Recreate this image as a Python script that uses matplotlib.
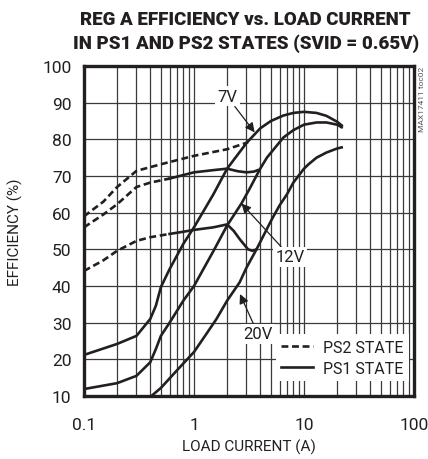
import numpy as np
import matplotlib
matplotlib.use('Agg')
import matplotlib.pyplot as plt

plt.rcParams['font.family'] = ['Roboto', 'DejaVu Sans']

# PS1 state (solid)
i_7v = [0.1, 0.2, 0.3, 0.4, 0.45, 0.5, 0.6, 0.8, 1, 1.5, 2, 3, 4, 5, 6.5, 8, 10, 13, 16, 20, 22]
eff_7v = [21.2, 24.2, 26.4, 31, 34.6, 39.7, 44.6, 51.5, 56, 65, 72, 79, 83, 85, 86.5, 87.2, 87.5, 87.2, 86.4, 84.8, 83.8]

i_12v = [0.1, 0.2, 0.3, 0.4, 0.45, 0.5, 0.6, 0.8, 1, 1.5, 2, 2.7, 3.2, 4, 4.6, 6.5, 8, 10, 13, 16, 20, 22]
eff_12v = [11.9, 13.5, 15.5, 19.2, 22.8, 26.4, 30, 36, 40, 49.5, 56.5, 62.5, 66.5, 72, 75, 80.5, 82.5, 84, 84.6, 84.6, 84, 83.3]

i_20v = [0.41, 0.5, 0.7, 1, 1.3, 1.6, 2, 2.6, 3, 3.7, 4.5, 5.1, 6, 7, 8, 10, 11, 13, 16, 20, 22]
eff_20v = [10, 12.2, 17, 22, 27, 31, 36, 41, 45, 50, 55, 58.2, 62, 65, 68.2, 72, 73.2, 75, 76.4, 77.5, 77.8]

# PS2 state (dashed at light load, solid once it joins)
i_7v_ps2 = [0.1, 0.15, 0.2, 0.3, 0.5, 1, 2, 3.1]
eff_7v_ps2 = [59, 63, 67, 71.4, 73.2, 75.5, 77.3, 79.2]

i_12v_ps2_d = [0.1, 0.15, 0.2, 0.3, 0.4, 0.6]
eff_12v_ps2_d = [56, 59.5, 62.3, 67, 68.2, 69.3]
i_12v_ps2_s = [0.6, 1, 1.5, 2, 2.5, 3, 3.5, 3.8]
eff_12v_ps2_s = [69.3, 71, 71.6, 72, 71.3, 71, 71.2, 71.6]

i_20v_ps2_d = [0.1, 0.15, 0.2, 0.3, 0.4, 0.6]
eff_20v_ps2_d = [44.1, 47, 49.6, 52.3, 53.3, 54.2]
i_20v_ps2_s = [0.6, 0.8, 1, 1.5, 2, 2.3, 2.6, 3.1, 3.4, 3.7]
eff_20v_ps2_s = [54.2, 54.8, 55.3, 56, 56.8, 55, 52.8, 50, 49.6, 50]

fig = plt.figure(figsize=(4.28, 4.60), dpi=100)
ax = fig.add_axes([84/428, 1-397/460, 330/428, 330/460])

lw = 1.9
c = '#231f20'
dash = (0, (2.6, 1.4))
ax.plot(i_7v, eff_7v, color=c, lw=lw, zorder=3)
ax.plot(i_12v, eff_12v, color=c, lw=lw, zorder=3)
ax.plot(i_20v, eff_20v, color=c, lw=lw, zorder=3)
ax.plot(i_7v_ps2, eff_7v_ps2, color=c, lw=lw, ls=dash, zorder=3)
ax.plot(i_12v_ps2_d, eff_12v_ps2_d, color=c, lw=lw, ls=dash, zorder=3)
ax.plot(i_12v_ps2_s, eff_12v_ps2_s, color=c, lw=lw, zorder=3)
ax.plot(i_20v_ps2_d, eff_20v_ps2_d, color=c, lw=lw, ls=dash, zorder=3)
ax.plot(i_20v_ps2_s, eff_20v_ps2_s, color=c, lw=lw, zorder=3)

ax.set_xscale('log')
ax.set_xlim(0.1, 100)
ax.set_ylim(10, 100)
ax.set_yticks(np.arange(10, 101, 10))
ax.set_xticks([0.1, 1, 10, 100])
ax.set_xticklabels(['0.1', '1', '10', '100'])
ax.xaxis.set_minor_locator(matplotlib.ticker.LogLocator(base=10, subs=np.arange(2, 10)))
ax.xaxis.set_minor_formatter(matplotlib.ticker.NullFormatter())
ax.grid(True, which='both', axis='x', color='#3a3a3a', lw=0.9)
ax.grid(True, which='major', axis='y', color='#3a3a3a', lw=0.9)
ax.tick_params(which='both', length=0, labelsize=12.5, colors='#231f20')
ax.tick_params(axis='x', pad=15)
ax.tick_params(axis='y', pad=9)
for s in ax.spines.values():
    s.set_linewidth(2.4)
    s.set_color(c)

ax.set_xlabel('LOAD CURRENT (A)', fontsize=11, color=c, labelpad=5)
ax.set_ylabel('EFFICIENCY (%)', fontsize=11, color=c, labelpad=14)

fig.text(0.574, 0.956, 'REG A EFFICIENCY vs. LOAD CURRENT', ha='center', va='center',
         fontsize=13.5, fontweight='heavy', color=c)
fig.text(0.574, 0.906, 'IN PS1 AND PS2 STATES (SVID = 0.65V)', ha='center', va='center',
         fontsize=13.5, fontweight='heavy', color=c)

fig.text(0.985, 0.855, 'MAX17411 toc02', rotation=90, ha='center', va='top',
         fontsize=6, color='#555555')

box = dict(boxstyle='square,pad=0.15', fc='white', ec='none')
arrow = dict(arrowstyle='-|>', color=c, lw=0.9, mutation_scale=14, shrinkA=0, shrinkB=0)
ax.annotate('7V', xy=(3.56, 81.9), xytext=(2.0, 91.7), fontsize=12, color=c,
            ha='center', va='center', bbox=box, arrowprops=arrow, zorder=5)
ax.annotate('12V', xy=(2.7, 62.5), xytext=(7.5, 48), fontsize=12, color=c,
            ha='center', va='center', bbox=box, arrowprops=arrow, zorder=5)
ax.annotate('20V', xy=(2.62, 37.8), xytext=(3.8, 27), fontsize=12, color=c,
            ha='center', va='center', bbox=box, arrowprops=arrow, zorder=6)

leg = ax.legend([plt.Line2D([], [], color=c, lw=lw, ls=dash),
                 plt.Line2D([], [], color=c, lw=lw)],
                ['PS2 STATE', 'PS1 STATE'], loc='lower right',
                bbox_to_anchor=(0.985, 0.045), fontsize=11.5, frameon=True,
                fancybox=False, edgecolor='none', framealpha=1,
                handlelength=2.0, handletextpad=0.6, borderpad=0.35,
                labelspacing=0.35, borderaxespad=0)
leg.get_frame().set_linewidth(0)
leg.set_zorder(4)
for t in leg.get_texts():
    t.set_color(c)

fig.savefig('out.png', dpi=100)
